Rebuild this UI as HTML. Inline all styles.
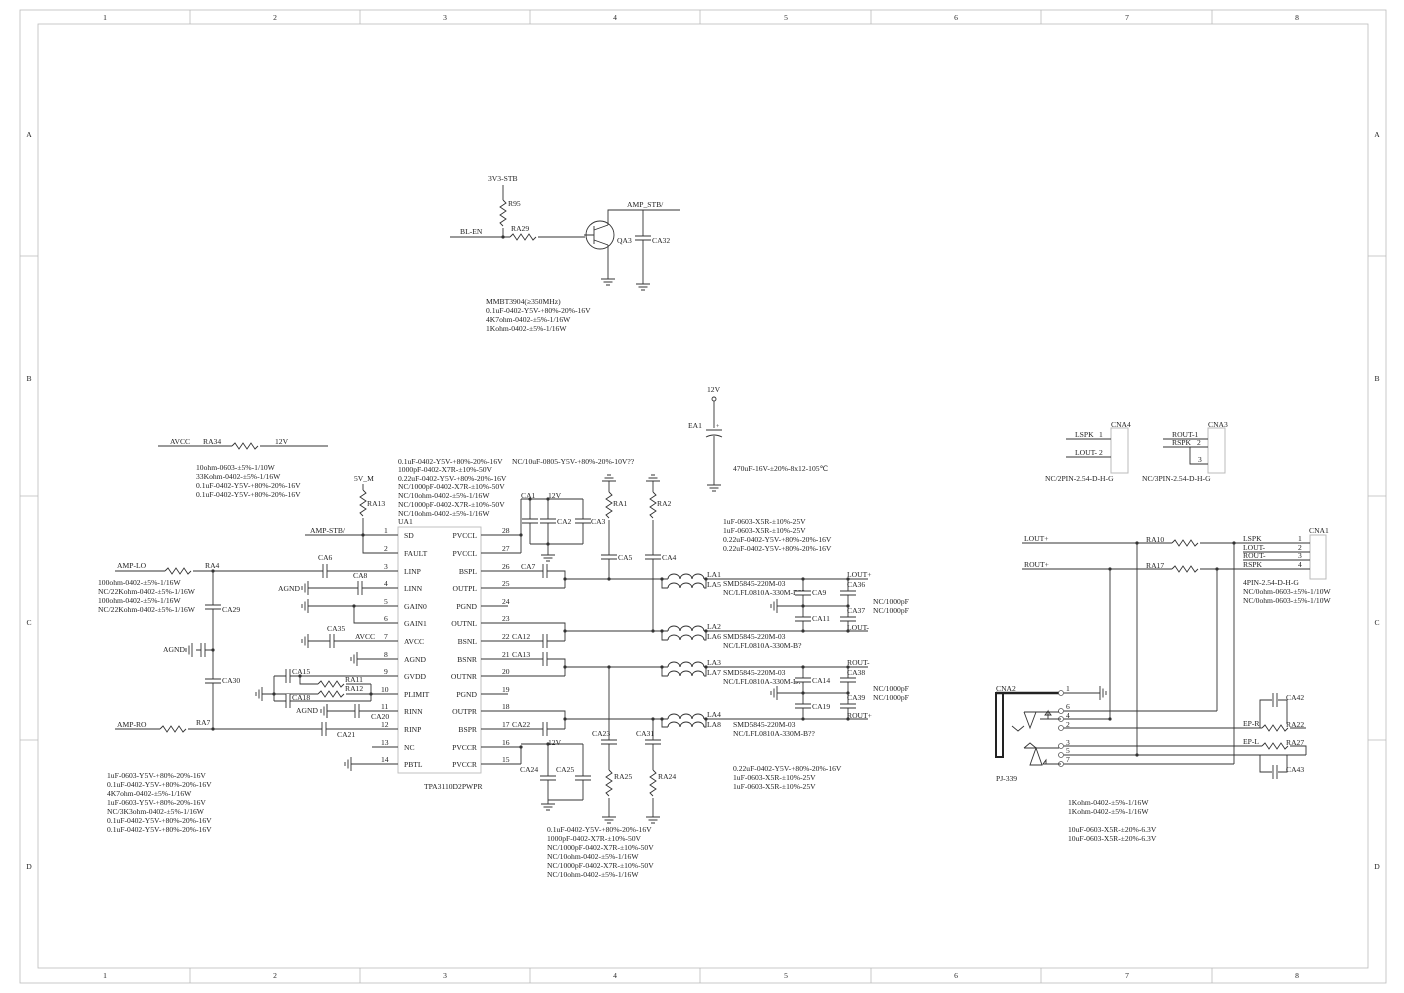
<!DOCTYPE html>
<html><head><meta charset="utf-8"><style>
html,body{margin:0;padding:0;background:#fff;}
svg{display:block}
text{font-family:"Liberation Serif",serif;font-size:7.6px;fill:#222}
.w{stroke:#333;stroke-width:0.9;fill:none}
.f{stroke:#bbb;stroke-width:0.8;fill:none}
</style></head><body>
<svg width="1404" height="993" viewBox="0 0 1404 993" xmlns="http://www.w3.org/2000/svg">
<defs>
<g id="rh"><rect x="0" y="-4" width="28" height="8" fill="#fff"/><path class="w" d="M0 0 l3 -3 l4 6 l4 -6 l4 6 l4 -6 l4 6 l3 -3"/></g>
<g id="rv"><rect x="-4" y="0" width="8" height="28" fill="#fff"/><path class="w" d="M0 0 l3 3 l-6 4 l6 4 l-6 4 l6 4 l-6 4 l3 3"/></g>
<g id="ch"><rect x="-2" y="-7" width="4" height="14" fill="#fff"/><path class="w" d="M-2 -7 v14 M2 -7 v14"/></g>
<g id="cv"><rect x="-8" y="-2" width="16" height="4" fill="#fff"/><path class="w" d="M-8 -2 h16 M-8 2 h16"/></g>
<g id="gd"><path class="w" d="M0 0 v4 M-7 4 h14 M-4.5 7 h9 M-2 10 h4"/></g>
<g id="gu"><path class="w" d="M0 0 v-4 M-7 -4 h14 M-4.5 -7 h9 M-2 -10 h4"/></g>
<g id="gl"><path class="w" d="M0 -7 v14 M-3 -4.5 v9 M-6 -2 v4"/></g>
<g id="gr"><path class="w" d="M0 -7 v14 M3 -4.5 v9 M6 -2 v4"/></g>
<g id="ind"><rect x="0" y="-5" width="36" height="6" fill="#fff"/><path class="w" d="M0 0 a6 5 0 0 1 12 0 a6 5 0 0 1 12 0 a6 5 0 0 1 12 0"/></g>
<circle id="d" r="1.6" fill="#333"/>
</defs>

<!-- frame -->
<rect class="f" x="20" y="10" width="1366" height="973"/>
<rect class="f" x="38" y="24" width="1330" height="944"/>
<g class="f">
<path d="M190 10v14M360 10v14M530 10v14M700 10v14M871 10v14M1041 10v14M1212 10v14"/>
<path d="M190 968v15M360 968v15M530 968v15M700 968v15M871 968v15M1041 968v15M1212 968v15"/>
<path d="M20 256h18M20 496h18M20 740h18M1368 256h18M1368 496h18M1368 740h18"/>
</g>
<g style="font-size:7px" text-anchor="middle">
<text x="105" y="20">1</text><text x="275" y="20">2</text><text x="445" y="20">3</text><text x="615" y="20">4</text><text x="786" y="20">5</text><text x="956" y="20">6</text><text x="1127" y="20">7</text><text x="1297" y="20">8</text>
<text x="105" y="978">1</text><text x="275" y="978">2</text><text x="445" y="978">3</text><text x="615" y="978">4</text><text x="786" y="978">5</text><text x="956" y="978">6</text><text x="1127" y="978">7</text><text x="1297" y="978">8</text>
<text x="29" y="137">A</text><text x="29" y="381">B</text><text x="29" y="625">C</text><text x="29" y="869">D</text>
<text x="1377" y="137">A</text><text x="1377" y="381">B</text><text x="1377" y="625">C</text><text x="1377" y="869">D</text>
</g>

<!-- top transistor circuit -->
<text x="488" y="181">3V3-STB</text>
<path class="w" d="M503 185v52 M450 237h135 M594 226v18 M594 235h-10 M608 225v-15h72 M608 245v30 M643 210v70"/>
<path class="w" d="M594 230l14 -5 M594 240l14 5"/>
<circle cx="600" cy="235" r="14" class="w"/>
<use href="#rv" x="503" y="200"/><text x="508" y="206">R95</text>
<use href="#d" x="503" y="237"/>
<text x="460" y="234">BL-EN</text>
<use href="#rh" x="510" y="237"/><text x="511" y="231">RA29</text>
<text x="627" y="207">AMP_STB/</text>
<text x="617" y="243">QA3</text>
<use href="#cv" x="643" y="238"/><text x="652" y="243">CA32</text>
<use href="#gd" x="608" y="275"/><use href="#gd" x="643" y="280"/>
<text x="486" y="304">MMBT3904(≥350MHz)</text>
<text x="486" y="313">0.1uF-0402-Y5V-+80%-20%-16V</text>
<text x="486" y="322">4K7ohm-0402-±5%-1/16W</text>
<text x="486" y="331">1Kohm-0402-±5%-1/16W</text>

<!-- AVCC -->
<path class="w" d="M158 446h170"/>
<text x="170" y="444">AVCC</text><text x="203" y="444">RA34</text><use href="#rh" x="232" y="446"/><text x="275" y="444">12V</text>
<text x="196" y="470">10ohm-0603-±5%-1/10W</text>
<text x="196" y="479">33Kohm-0402-±5%-1/16W</text>
<text x="196" y="488">0.1uF-0402-Y5V-+80%-20%-16V</text>
<text x="196" y="497">0.1uF-0402-Y5V-+80%-20%-16V</text>

<text x="398" y="464">0.1uF-0402-Y5V-+80%-20%-16V</text>
<text x="398" y="472">1000pF-0402-X7R-±10%-50V</text>
<text x="398" y="481">0.22uF-0402-Y5V-+80%-20%-16V</text>
<text x="398" y="489">NC/1000pF-0402-X7R-±10%-50V</text>
<text x="398" y="498">NC/10ohm-0402-±5%-1/16W</text>
<text x="398" y="507">NC/1000pF-0402-X7R-±10%-50V</text>
<text x="398" y="516">NC/10ohm-0402-±5%-1/16W</text>
<text x="512" y="464">NC/10uF-0805-Y5V-+80%-20%-10V??</text>

<!-- EA1 -->
<text x="707" y="392">12V</text>
<circle cx="714" cy="399" r="2" class="w"/>
<path class="w" d="M714 401v27 M706 430h16 M706 437q8 -4 16 0 M714 436v45"/>
<text x="716" y="428" style="font-size:6px">+</text>
<text x="688" y="428">EA1</text>
<use href="#gd" x="714" y="481"/>
<text x="733" y="471">470uF-16V-±20%-8x12-105℃</text>

<!-- UA1 -->
<rect x="398" y="527" width="83" height="246" fill="#fff" stroke="#bbb" stroke-width="0.9"/>
<text x="398" y="524">UA1</text>
<text x="424" y="789">TPA3110D2PWPR</text>
<g class="w">
<path d="M372 535h26M372 553h26M372 571h26M372 588h26M372 606h26M372 623h26M372 641h26M372 659h26M372 676h26M372 694h26M372 711h26M372 729h26M372 747h26M372 764h26"/>
<path d="M481 535h27M481 553h27M481 571h27M481 588h27M481 606h27M481 623h27M481 641h27M481 659h27M481 676h27M481 694h27M481 711h27M481 729h27M481 747h27M481 764h27"/>
</g>
<g>
<text x="384" y="533">1</text><text x="384" y="551">2</text><text x="384" y="569">3</text><text x="384" y="586">4</text><text x="384" y="604">5</text><text x="384" y="621">6</text><text x="384" y="639">7</text><text x="384" y="657">8</text><text x="384" y="674">9</text><text x="381" y="692">10</text><text x="381" y="709">11</text><text x="381" y="727">12</text><text x="381" y="745">13</text><text x="381" y="762">14</text>
<text x="502" y="533">28</text><text x="502" y="551">27</text><text x="502" y="569">26</text><text x="502" y="586">25</text><text x="502" y="604">24</text><text x="502" y="621">23</text><text x="502" y="639">22</text><text x="502" y="657">21</text><text x="502" y="674">20</text><text x="502" y="692">19</text><text x="502" y="709">18</text><text x="502" y="727">17</text><text x="502" y="745">16</text><text x="502" y="762">15</text>
<text x="404" y="538">SD</text><text x="404" y="556">FAULT</text><text x="404" y="574">LINP</text><text x="404" y="591">LINN</text><text x="404" y="609">GAIN0</text><text x="404" y="626">GAIN1</text><text x="404" y="644">AVCC</text><text x="404" y="662">AGND</text><text x="404" y="679">GVDD</text><text x="404" y="697">PLIMIT</text><text x="404" y="714">RINN</text><text x="404" y="732">RINP</text><text x="404" y="750">NC</text><text x="404" y="767">PBTL</text>
<g text-anchor="end"><text x="477" y="538">PVCCL</text><text x="477" y="556">PVCCL</text><text x="477" y="574">BSPL</text><text x="477" y="591">OUTPL</text><text x="477" y="609">PGND</text><text x="477" y="626">OUTNL</text><text x="477" y="644">BSNL</text><text x="477" y="662">BSNR</text><text x="477" y="679">OUTNR</text><text x="477" y="697">PGND</text><text x="477" y="714">OUTPR</text><text x="477" y="732">BSPR</text><text x="477" y="750">PVCCR</text><text x="477" y="767">PVCCR</text></g>
</g>

<!-- left wiring -->
<path class="w" d="M305 535h67 M363 484v69h9 M115 571h257 M308 588h64 M308 606h64 M354 606v17h18 M308 641h64 M357 659h15 M213 571v158 M115 729h257 M196 650h17 M274 676h98 M274 676v25 M262 694h12 M274 701h97 M300 676v8h71 M274 694h97 M371 684v17 M327 711h45 M327 704v14 M351 764h21"/>
<text x="310" y="533">AMP-STB/</text>
<text x="354" y="481">5V_M</text>
<use href="#rv" x="363" y="490"/><text x="367" y="506">RA13</text>
<use href="#d" x="363" y="535"/>
<text x="117" y="568">AMP-LO</text><use href="#rh" x="165" y="571"/><text x="205" y="568">RA4</text><use href="#d" x="213" y="571"/>
<use href="#ch" x="325" y="571"/><text x="318" y="560">CA6</text>
<text x="278" y="591">AGND</text><use href="#gl" x="308" y="588"/><use href="#ch" x="360" y="588"/><text x="353" y="578">CA8</text>
<use href="#gl" x="308" y="606"/><use href="#d" x="354" y="606"/>
<use href="#gl" x="308" y="641"/><use href="#ch" x="332" y="641"/><text x="327" y="631">CA35</text><text x="355" y="639">AVCC</text>
<use href="#gl" x="357" y="659"/>
<use href="#cv" x="213" y="607"/><text x="222" y="612">CA29</text>
<text x="163" y="652">AGND</text><use href="#gl" x="192" y="650"/><use href="#ch" x="203" y="650"/><use href="#d" x="213" y="650"/>
<use href="#cv" x="213" y="681"/><text x="222" y="683">CA30</text>
<text x="117" y="727">AMP-RO</text><use href="#rh" x="160" y="729"/><text x="196" y="725">RA7</text><use href="#d" x="213" y="729"/>
<use href="#ch" x="324" y="729"/><text x="337" y="737">CA21</text>
<use href="#ch" x="288" y="676"/><text x="292" y="674">CA15</text>
<use href="#ch" x="288" y="701"/><text x="292" y="700">CA18</text>
<use href="#gl" x="262" y="694"/><use href="#d" x="274" y="694"/><use href="#d" x="300" y="676"/><use href="#d" x="371" y="694"/>
<use href="#rh" x="318" y="684"/><text x="345" y="682">RA11</text>
<use href="#rh" x="318" y="694"/><text x="345" y="691">RA12</text>
<text x="296" y="713">AGND</text><use href="#gl" x="327" y="711"/><use href="#ch" x="357" y="711"/><text x="371" y="719">CA20</text>
<use href="#gl" x="351" y="764"/>

<text x="98" y="585">100ohm-0402-±5%-1/16W</text>
<text x="98" y="594">NC/22Kohm-0402-±5%-1/16W</text>
<text x="98" y="603">100ohm-0402-±5%-1/16W</text>
<text x="98" y="612">NC/22Kohm-0402-±5%-1/16W</text>
<text x="107" y="778">1uF-0603-Y5V-+80%-20%-16V</text>
<text x="107" y="787">0.1uF-0402-Y5V-+80%-20%-16V</text>
<text x="107" y="796">4K7ohm-0402-±5%-1/16W</text>
<text x="107" y="805">1uF-0603-Y5V-+80%-20%-16V</text>
<text x="107" y="814">NC/3K3ohm-0402-±5%-1/16W</text>
<text x="107" y="823">0.1uF-0402-Y5V-+80%-20%-16V</text>
<text x="107" y="832">0.1uF-0402-Y5V-+80%-20%-16V</text>

<!-- right supply caps -->
<path class="w" d="M508 535h13 M508 553h13 M521 499v54 M521 499h62 M530 499v45 M548 499v45 M583 499v45 M530 544h53 M548 544v7"/>
<use href="#d" x="521" y="535"/><use href="#d" x="530" y="499"/><use href="#d" x="548" y="499"/><use href="#d" x="548" y="544"/>
<use href="#cv" x="530" y="521"/><use href="#cv" x="548" y="521"/><use href="#cv" x="583" y="521"/>
<text x="521" y="498">CA1</text><text x="548" y="498">12V</text><text x="557" y="524">CA2</text><text x="591" y="524">CA3</text>
<use href="#gd" x="548" y="551"/>

<!-- RA1 RA2 -->
<use href="#gu" x="609" y="485"/><use href="#gu" x="653" y="485"/>
<path class="w" d="M609 485v94 M653 485v146"/>
<use href="#rv" x="609" y="492"/><text x="613" y="506">RA1</text>
<use href="#rv" x="653" y="492"/><text x="657" y="506">RA2</text>
<use href="#cv" x="609" y="557"/><text x="618" y="560">CA5</text>
<use href="#cv" x="653" y="557"/><text x="662" y="560">CA4</text>
<use href="#d" x="609" y="579"/><use href="#d" x="653" y="631"/>

<text x="723" y="524">1uF-0603-X5R-±10%-25V</text>
<text x="723" y="533">1uF-0603-X5R-±10%-25V</text>
<text x="723" y="542">0.22uF-0402-Y5V-+80%-20%-16V</text>
<text x="723" y="551">0.22uF-0402-Y5V-+80%-20%-16V</text>

<!-- output channels -->
<path class="w" d="M508 571h57v17 M508 588h57 M565 579h303 M508 623h57v18 M508 641h57 M565 631h303 M508 659h57v17 M508 676h57 M565 667h303 M508 711h57v18 M508 729h57 M565 719h303"/>
<use href="#ch" x="545" y="571"/><text x="521" y="569">CA7</text>
<use href="#ch" x="545" y="641"/><text x="512" y="639">CA12</text>
<use href="#ch" x="545" y="659"/><text x="512" y="657">CA13</text>
<use href="#ch" x="545" y="729"/><text x="512" y="727">CA22</text>
<use href="#d" x="565" y="579"/><use href="#d" x="565" y="631"/><use href="#d" x="565" y="667"/><use href="#d" x="565" y="719"/>
<path class="w" d="M662 579v9h6 M704 588h2v-9 M662 631v9h6 M704 640h2v-9 M662 667v9h6 M704 676h2v-9 M662 719v8h6 M704 727h2v-8"/>
<use href="#ind" x="668" y="579"/><use href="#ind" x="668" y="588"/>
<use href="#ind" x="668" y="631"/><use href="#ind" x="668" y="640"/>
<use href="#ind" x="668" y="667"/><use href="#ind" x="668" y="676"/>
<use href="#ind" x="668" y="719"/><use href="#ind" x="668" y="727"/>
<use href="#d" x="662" y="579"/><use href="#d" x="706" y="579"/><use href="#d" x="662" y="631"/><use href="#d" x="706" y="631"/><use href="#d" x="662" y="667"/><use href="#d" x="706" y="667"/><use href="#d" x="662" y="719"/><use href="#d" x="706" y="719"/>
<text x="707" y="577">LA1</text><text x="707" y="587">LA5</text><text x="723" y="586">SMD5845-220M-03</text><text x="723" y="595">NC/LFL0810A-330M-B??</text>
<text x="707" y="629">LA2</text><text x="707" y="639">LA6</text><text x="723" y="639">SMD5845-220M-03</text><text x="723" y="648">NC/LFL0810A-330M-B?</text>
<text x="707" y="665">LA3</text><text x="707" y="675">LA7</text><text x="723" y="675">SMD5845-220M-03</text><text x="723" y="684">NC/LFL0810A-330M-B??</text>
<text x="707" y="717">LA4</text><text x="707" y="727">LA8</text><text x="733" y="727">SMD5845-220M-03</text><text x="733" y="736">NC/LFL0810A-330M-B??</text>

<path class="w" d="M803 579v52 M848 579v52 M777 606h71 M803 667v52 M848 667v52 M777 693h71"/>
<use href="#gl" x="777" y="606"/><use href="#gl" x="777" y="693"/>
<use href="#cv" x="803" y="593"/><use href="#cv" x="803" y="619"/><use href="#cv" x="848" y="593"/><use href="#cv" x="848" y="619"/>
<use href="#cv" x="803" y="680"/><use href="#cv" x="803" y="706"/><use href="#cv" x="848" y="680"/><use href="#cv" x="848" y="706"/>
<g><use href="#d" x="803" y="579"/><use href="#d" x="848" y="579"/><use href="#d" x="803" y="606"/><use href="#d" x="848" y="606"/><use href="#d" x="803" y="631"/><use href="#d" x="848" y="631"/>
<use href="#d" x="803" y="667"/><use href="#d" x="848" y="667"/><use href="#d" x="803" y="693"/><use href="#d" x="848" y="693"/><use href="#d" x="803" y="719"/><use href="#d" x="848" y="719"/></g>
<text x="847" y="577">LOUT+</text><text x="847" y="587">CA36</text><text x="812" y="595">CA9</text><text x="847" y="613">CA37</text><text x="812" y="621">CA11</text><text x="847" y="630">LOUT-</text>
<text x="873" y="604">NC/1000pF</text><text x="873" y="613">NC/1000pF</text>
<text x="847" y="665">ROUT-</text><text x="847" y="675">CA38</text><text x="812" y="683">CA14</text><text x="847" y="700">CA39</text><text x="812" y="709">CA19</text><text x="847" y="718">ROUT+</text>
<text x="873" y="691">NC/1000pF</text><text x="873" y="700">NC/1000pF</text>

<!-- CA23/RA25, CA31/RA24 -->
<path class="w" d="M609 667v146 M653 719v94"/>
<use href="#d" x="609" y="667"/><use href="#d" x="653" y="719"/>
<use href="#cv" x="609" y="742"/><text x="592" y="736">CA23</text>
<use href="#cv" x="653" y="742"/><text x="636" y="736">CA31</text>
<use href="#rv" x="609" y="770"/><text x="614" y="779">RA25</text>
<use href="#rv" x="653" y="770"/><text x="658" y="779">RA24</text>
<use href="#gd" x="609" y="813"/><use href="#gd" x="653" y="813"/>

<!-- PVCCR caps -->
<path class="w" d="M508 747h13 M508 764h13 M521 747v17 M521 744h62 M548 744v56 M583 744v56 M548 800h35 M548 800v0"/>
<use href="#d" x="521" y="747"/><use href="#d" x="548" y="744"/>
<text x="548" y="745">12V</text>
<use href="#cv" x="548" y="778"/><use href="#cv" x="583" y="778"/>
<text x="520" y="772">CA24</text><text x="556" y="772">CA25</text>
<use href="#gd" x="548" y="800"/>
<text x="547" y="832">0.1uF-0402-Y5V-+80%-20%-16V</text>
<text x="547" y="841">1000pF-0402-X7R-±10%-50V</text>
<text x="547" y="850">NC/1000pF-0402-X7R-±10%-50V</text>
<text x="547" y="859">NC/10ohm-0402-±5%-1/16W</text>
<text x="547" y="868">NC/1000pF-0402-X7R-±10%-50V</text>
<text x="547" y="877">NC/10ohm-0402-±5%-1/16W</text>
<text x="733" y="771">0.22uF-0402-Y5V-+80%-20%-16V</text>
<text x="733" y="780">1uF-0603-X5R-±10%-25V</text>
<text x="733" y="789">1uF-0603-X5R-±10%-25V</text>

<!-- CNA4 / CNA3 -->
<rect x="1111" y="428" width="17" height="45" fill="#fff" stroke="#bbb"/>
<text x="1111" y="427">CNA4</text>
<path class="w" d="M1066 439h45 M1066 457h45"/>
<text x="1075" y="437">LSPK</text><text x="1099" y="437">1</text><text x="1075" y="455">LOUT- 2</text>
<text x="1045" y="481">NC/2PIN-2.54-D-H-G</text>
<rect x="1208" y="428" width="17" height="45" fill="#fff" stroke="#bbb"/>
<text x="1208" y="427">CNA3</text>
<path class="w" d="M1163 439h45 M1163 447h45 M1190 447v17h18"/>
<text x="1172" y="437">ROUT-1</text><text x="1172" y="445">RSPK</text><text x="1197" y="445">2</text><text x="1198" y="462">3</text>
<text x="1142" y="481">NC/3PIN-2.54-D-H-G</text>

<!-- CNA1 -->
<rect x="1310" y="535" width="16" height="44" fill="#fff" stroke="#bbb"/>
<text x="1309" y="533">CNA1</text>
<path class="w" d="M1022 543h288 M1022 569h288 M1243 552h67 M1243 560h67 M1137 543v212 M1110 569v151 M1217 569v142 M1234 543v221"/>
<use href="#rh" x="1172" y="543"/><use href="#rh" x="1172" y="569"/>
<text x="1024" y="541">LOUT+</text><text x="1024" y="567">ROUT+</text>
<text x="1146" y="542">RA10</text><text x="1146" y="568">RA17</text>
<text x="1243" y="541">LSPK</text><text x="1243" y="550">LOUT-</text><text x="1243" y="558">ROUT-</text><text x="1243" y="567">RSPK</text>
<text x="1298" y="541">1</text><text x="1298" y="550">2</text><text x="1298" y="558">3</text><text x="1298" y="567">4</text>
<use href="#d" x="1137" y="543"/><use href="#d" x="1234" y="543"/><use href="#d" x="1110" y="569"/><use href="#d" x="1217" y="569"/>
<text x="1243" y="585">4PIN-2.54-D-H-G</text>
<text x="1243" y="594">NC/0ohm-0603-±5%-1/10W</text>
<text x="1243" y="603">NC/0ohm-0603-±5%-1/10W</text>

<!-- CNA2 -->
<rect x="996" y="693" width="7" height="64" fill="none" stroke="#222" stroke-width="2"/>
<path d="M996 693h63" stroke="#222" stroke-width="2.4"/>
<text x="996" y="691">CNA2</text><text x="996" y="781">PJ-339</text>
<g fill="#fff" stroke="#555" stroke-width="0.8">
<circle cx="1061" cy="693" r="2.5"/><circle cx="1061" cy="711" r="2.5"/><circle cx="1061" cy="719" r="2.5"/><circle cx="1061" cy="728" r="2.5"/><circle cx="1061" cy="746" r="2.5"/><circle cx="1061" cy="755" r="2.5"/><circle cx="1061" cy="764" r="2.5"/>
</g>
<text x="1066" y="691">1</text><text x="1066" y="709">6</text><text x="1066" y="718">4</text><text x="1066" y="727">2</text><text x="1066" y="745">3</text><text x="1066" y="753">5</text><text x="1066" y="762">7</text>
<path class="w" d="M1064 693h36 M1064 711h153 M1064 719h46 M1064 728h198 M1290 728h16 M1064 746h198 M1290 746h16v9 M1064 755h242 M1064 764h170"/>
<path class="w" d="M1024 712h35 M1024 712l6 16 l6 -16 M1040 719h21 M1048 719v-8 l-3 4 h6 l-3 -4 M1012 726l6 5 l6 -5 M1024 748l6 -5 l6 5 M1024 748h35 M1036 748l6 17 l-12 0z M1046 764h15 M1046 764v-4 l-3 4 h6"/>
<use href="#gr" x="1100" y="693"/>
<use href="#d" x="1110" y="719"/><use href="#d" x="1137" y="755"/>
<path class="w" d="M1260 728v-28h12 M1278 700h9v28 M1260 755v17h12 M1278 772h9v-17"/>
<use href="#ch" x="1275" y="700"/><use href="#ch" x="1275" y="772"/>
<use href="#rh" x="1262" y="728"/><use href="#rh" x="1262" y="746"/>
<text x="1243" y="726">EP-R</text><text x="1286" y="727">RA22</text><text x="1286" y="700">CA42</text>
<text x="1243" y="744">EP-L</text><text x="1286" y="745">RA27</text><text x="1286" y="772">CA43</text>

<text x="1068" y="805">1Kohm-0402-±5%-1/16W</text>
<text x="1068" y="814">1Kohm-0402-±5%-1/16W</text>
<text x="1068" y="832">10uF-0603-X5R-±20%-6.3V</text>
<text x="1068" y="841">10uF-0603-X5R-±20%-6.3V</text>
</svg>
</body></html>
